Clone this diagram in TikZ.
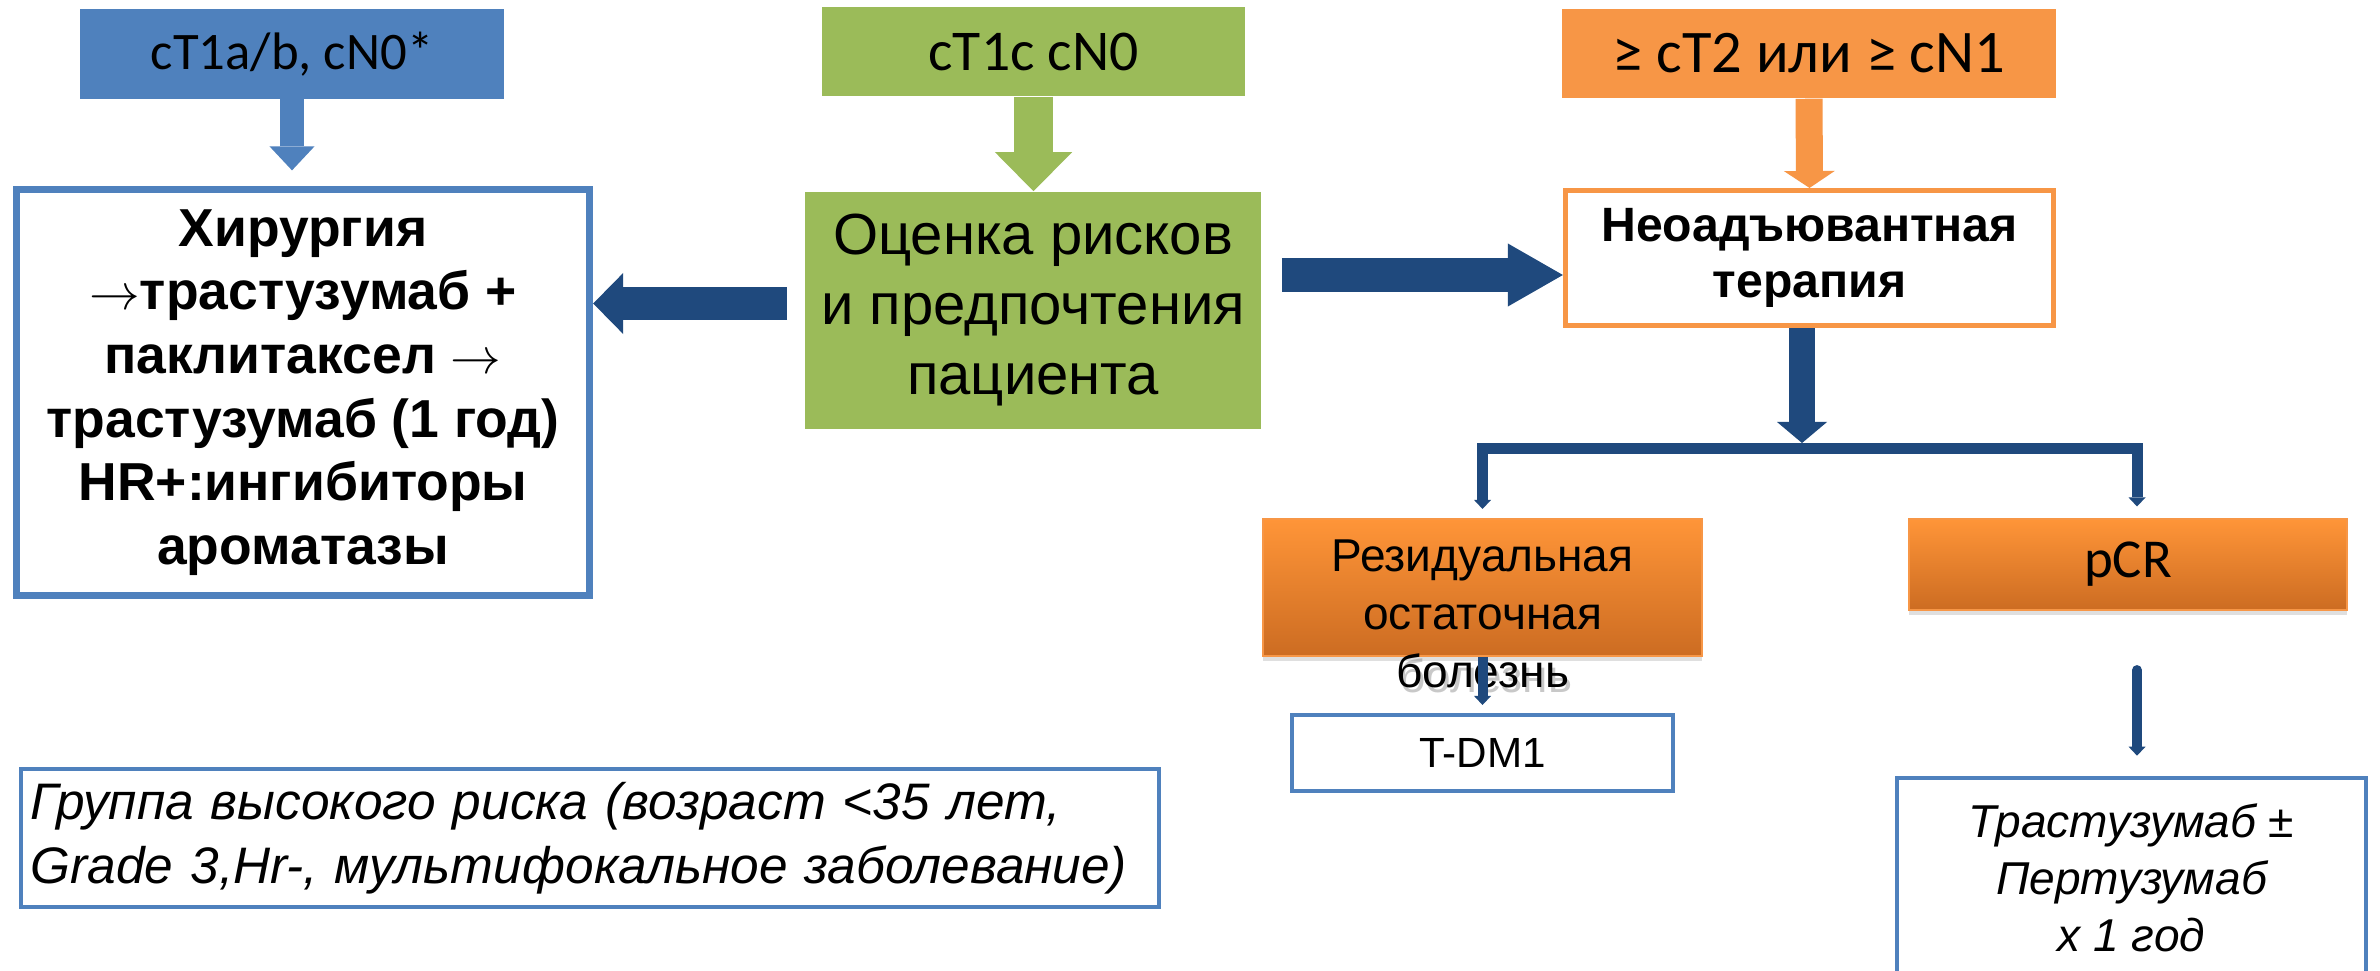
\documentclass[tikz,border=0pt]{standalone}
\usepackage{fontspec}
\setmainfont{Liberation Sans}
\newfontfamily\calfont{Carlito}
\usetikzlibrary{arrows.meta,calc,shadows}
\definecolor{oblue}{HTML}{4F81BD}
\definecolor{ogreen}{HTML}{9BBB59}
\definecolor{oorange}{HTML}{F79646}
\definecolor{dblue}{HTML}{1F497D}
\definecolor{gradtop}{HTML}{FF9538}
\definecolor{gradbot}{HTML}{CC6C22}
\newcommand{\thinrarrow}{\ensuremath{\rightarrow}}
\tikzset{
  lbl/.style={rectangle, inner sep=0pt, minimum height=0.89cm},
  outlinebox/.style={rectangle, draw, fill=white, inner sep=0pt, align=center},
  gradbox/.style={rectangle, inner sep=0pt, top color=gradtop, bottom color=gradbot, draw=oorange, line width=0.02cm,
    drop shadow={shadow xshift=0cm, shadow yshift=-0.05cm, opacity=0.25}},
  restxt/.style={align=center, inner sep=0pt, font=\fontsize{13.1}{16.4}\selectfont},
  smalltip/.tip={Triangle[width=0.17cm,length=0.09cm,line width=0pt]},
  thinarr/.style={dblue, line width=0.10cm, -smalltip},
}
\begin{document}
\begin{tikzpicture}[x=0.01cm,y=-0.01cm]
\path[use as bounding box, fill=white] (0,0) rectangle (2380,970);
\clip (0,0) rectangle (2380,970);

% top labels
\node[lbl, fill=oblue, minimum width=4.24cm, font=\calfont\fontsize{15}{18}\selectfont] (top1) at (292,54) {cT1a/b, cN0*};
\node[lbl, fill=ogreen, minimum width=4.23cm, font=\calfont\fontsize{16.4}{19}\selectfont] (top2) at (1033.5,51.5) {cT1c cN0};
\node[lbl, fill=oorange, minimum width=4.94cm, font=\calfont\fontsize{17.2}{19}\selectfont] (top3) at (1809,53.5) {≥ cT2 или ≥ cN1};

% main boxes
\node[outlinebox, draw=oblue, line width=0.07cm, minimum width=5.73cm, minimum height=4.06cm,
  font=\bfseries\fontsize{15.2}{18.1}\selectfont] (surg) at (303,392.5)
  {Хирургия\\\thinrarrow трастузумаб +\\паклитаксел \thinrarrow\\трастузумаб (1 год)\\HR+:ингибиторы\\ароматазы};
\node[rectangle, fill=ogreen, inner sep=0pt, align=center, minimum width=4.56cm, minimum height=2.37cm,
  font=\fontsize{16.5}{19.9}\selectfont] (eval) at (1033,310.5) {Оценка рисков\\и предпочтения\\пациента};
\node[outlinebox, draw=oorange, line width=0.05cm, minimum width=4.88cm, minimum height=1.35cm,
  font=\bfseries\fontsize{13.7}{15.9}\selectfont] (neo) at (1809.5,258) {Неоадъювантная\\терапия};

% residual
\node[restxt, text=black!70, opacity=0.3] (resshadow) at (1485.5,619) {Резидуальная\\остаточная\\болезнь};
\node[gradbox, minimum width=4.39cm, minimum height=1.37cm] (res) at (1482.5,587.5) {};
\node[restxt] (restext) at (1482.5,614) {Резидуальная\\остаточная\\болезнь};
\node[gradbox, minimum width=4.38cm, minimum height=0.91cm, font=\calfont\fontsize{15.6}{18}\selectfont] (pcr) at (2128,564.5) {pCR};

\node[outlinebox, draw=oblue, line width=0.04cm, minimum width=3.81cm, minimum height=0.76cm,
  font=\fontsize{12}{14}\selectfont] (tdm) at (1482.5,753) {T-DM1};
\node[outlinebox, draw=oblue, line width=0.045cm, minimum width=4.69cm, minimum height=2.0cm,
  font=\itshape\fontsize{13.1}{16.2}\selectfont] (tras) at (2131.5,878) {Трастузумаб ±\\Пертузумаб\\х 1 год};
\node[outlinebox, draw=oblue, line width=0.04cm, minimum width=11.38cm, minimum height=1.38cm,
  text width=11.18cm, align=left, font=\itshape\fontsize{14.6}{18.2}\selectfont] (hr) at (590,838)
  {Группа высокого риска (возраст <35 лет,\\Grade 3,Hr-, мультифокальное заболевание)};

% block arrows
\draw[oblue, line width=0.24cm, -{Triangle[width=0.45cm,length=0.24cm,line width=0pt]}, shorten >=0.155cm]
  (top1.south) -- (top1.south |- surg.north);
\draw[ogreen, line width=0.39cm, -{Triangle[width=0.77cm,length=0.39cm,line width=0pt]}]
  (top2.south) -- (top2.south |- eval.north);
\draw[oorange, line width=0.27cm, -{Triangle[width=0.51cm,length=0.17cm,line width=0pt]}]
  (top3.south) -- (neo.north);

\coordinate (la) at ($(eval.west)+(-17,-7)$);
\draw[dblue, line width=0.32cm, -{Triangle[width=0.61cm,length=0.30cm,line width=0pt]}]
  (la) -- (la -| surg.east);
\coordinate (ra) at ($(eval.east)+(20,-35.5)$);
\draw[dblue, line width=0.34cm, -{Triangle[width=0.63cm,length=0.55cm,line width=0pt]}]
  (ra) -- (ra -| neo.west);

\coordinate (split) at (1802,448.5);
\draw[dblue, line width=0.26cm, -{Triangle[width=0.50cm,length=0.21cm,line width=0pt]}]
  (neo.south -| split) -- ($(split)+(0,-5.5)$);
\draw[dblue, line width=0.11cm, line join=miter, smalltip-smalltip]
  ($(res.north)+(0,-9)$) |- (split) -| ($(pcr.north)+(9,-11.5)$);

\draw[thinarr, shorten >=0.08cm] (res.south) -- (tdm.north);
\coordinate (pc) at ($(pcr.south)+(9,0)$);
\draw[thinarr, line cap=round, shorten <=0.59cm, shorten >=0.2cm] (pc) -- (pc |- tras.north);
\end{tikzpicture}
\end{document}
